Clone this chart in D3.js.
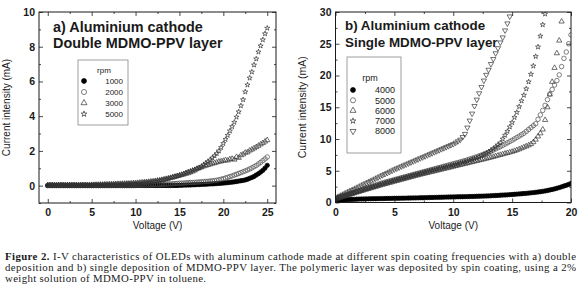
<!DOCTYPE html>
<html><head><meta charset="utf-8">
<script src="https://cdn.jsdelivr.net/npm/d3@7/dist/d3.min.js"></script>
<style>
body{margin:0;background:#fff}
svg{display:block}
text{font-family:"Liberation Sans",Arial,Helvetica,sans-serif;fill:#1a1a1a}
text.cap{font-family:"Liberation Serif","Times New Roman",serif}
</style>
</head><body>
<svg id="chart" width="580" height="295"></svg>
<script>
// ---------- DATA ----------
// Panel a: voltage sweep 0..25 V, step 0.25 V
const sweepA = {start: 0, step: 0.25, count: 101};
const seriesA_names = ["1000", "2000", "3000", "5000"];
const curA_1000 = [
0,0,0,0,0,0,0,0,0,0, 0,0,0,0,0,0,0,0,0,0, 0,0,0,0,0,0,0,0,0,0, 0,0,0,0,0,0,0,0,0,0,
0.01,0.01,0.01,0.01,0.01,0.01,0.01,0.01,0.01,0.01, 0.01,0.01,0.01,0.01,0.01,0.01,0.01,0.01,0.01,0.01,
0.02,0.02,0.03,0.03,0.04,0.04,0.05,0.05,0.06,0.06,0.07,0.08,0.08,0.09,0.10,0.10,0.11,0.12,0.13,0.14,
0.15,0.16,0.17,0.19,0.20,0.22,0.24,0.26,0.28,0.30,0.33,0.37,0.42,0.47,0.53,0.61,0.69,0.78,0.88,1.01,1.17];
const curA_2000 = [
0.02,0.02,0.02,0.02,0.02,0.02,0.02,0.02,0.02,0.02, 0.02,0.02,0.02,0.02,0.02,0.02,0.02,0.02,0.02,0.02,
0.02,0.02,0.02,0.02,0.02,0.02,0.02,0.02,0.02,0.02, 0.02,0.02,0.02,0.02,0.02,0.02,0.02,0.02,0.02,0.02,
0.03,0.03,0.04,0.04,0.04,0.05,0.05,0.05,0.06,0.06,0.07,0.07,
0.08,0.08,0.09,0.10,0.10,0.11,0.12,0.13,
0.14,0.14,0.15,0.16,0.17,0.18,0.18,0.19,
0.20,0.21,0.22,0.23,0.24,0.25,0.26,0.28,
0.29,0.31,0.34,0.37,0.40,0.44,0.48,0.52,
0.56,0.61,0.65,0.70,0.75,0.80,0.85,0.90,
0.96,1.02,1.09,1.16,1.25,1.34,1.44,1.54,
1.65];
const curA_3000 = [
0.03,0.03,0.03,0.03,0.03,0.03,0.03,0.03,0.03,0.03, 0.03,0.03,0.03,0.03,0.03,0.03,0.03,0.03,0.03,0.03,
0.04,0.04,0.05,0.05,0.06,0.06,0.07,0.07,0.08,0.08,0.09,0.09,0.10,0.10,0.11,0.11,0.12,0.12,0.13,0.14,
0.15,0.16,0.17,0.19,0.20,0.21,0.22,0.24,
0.25,0.27,0.29,0.31,0.33,0.36,0.39,0.42,
0.45,0.48,0.51,0.55,0.58,0.62,0.65,0.69,
0.72,0.77,0.82,0.88,0.97,1.02,1.06,1.11,
1.15,1.19,1.23,1.27,1.30,1.34,1.38,1.40,
1.43,1.47,1.45,1.52,1.55,1.50,1.65,1.60,
1.75,1.80,1.90,1.92,2.02,2.08,2.15,2.22,
2.30,2.38,2.45,2.54,
2.62];
const curA_5000 = [
0.03,0.03,0.03,0.03,0.03,0.03,0.03,0.03,0.03,0.03, 0.03,0.03,0.03,0.03,0.03,0.03,0.03,0.03,0.03,0.03,
0.04,0.04,0.04,0.05,0.05,0.05,0.06,0.06,0.06,0.07,0.07,0.08,0.08,0.09,0.09,0.10,0.10,0.11,0.11,0.12,
0.12,0.13,0.14,0.15,0.17,0.18,0.19,0.21,
0.23,0.25,0.27,0.29,0.32,0.35,0.38,0.41,
0.45,0.49,0.53,0.56,0.60,0.64,0.69,0.74,
0.80,0.84,0.89,0.93,0.98,1.02,1.10,1.20,
1.30,1.38,1.48,1.60,1.72,1.85,2.00,2.20,
2.43,2.66,2.90,3.15,3.40,3.65,3.95,4.25,
4.60,4.95,5.40,5.80,6.20,6.55,6.95,7.30,
7.70,8.05,8.40,8.75,
9.07];

// Panel b: voltage sweep 0..20 V, step 0.2 V
const sweepB = {start: 0, step: 0.2, count: 101};
const seriesB_names = ["4000", "5000", "6000", "7000", "8000"];
const curB_4000 = [
0.20,0.30,0.36,0.40,0.43,0.45,0.47,0.49,0.50,0.52,0.54,0.55,0.56,0.57,0.58,0.59,0.60,0.60,0.61,0.62,0.62,0.63,0.64,0.64,0.65,0.66,
0.66,0.67,0.68,0.68,0.69,0.70,0.71,0.72,0.72,0.73,0.74,0.75,0.76,0.77,0.78,
0.79,0.80,0.81,0.82,0.83,0.84,0.85,0.86,0.87,0.88,
0.89,0.90,0.90,0.91,0.92,0.93,0.94,0.95,0.96,0.98,
0.99,1.00,1.01,1.03,1.04,1.06,1.08,1.10,1.12,1.15,
1.17,1.19,1.21,1.24,1.26,
1.29,1.32,1.35,1.38,1.41,
1.44,1.48,1.52,1.56,1.60,
1.65,1.70,1.76,1.82,1.89,
1.97,2.05,2.14,2.24,2.35,
2.47,2.59,2.71,2.85,3.00];
const curB_5000 = [
0.60,0.78,0.93,1.06,1.18,1.30,1.42,1.54,1.66,1.78,1.90,2.02,2.14,2.26,2.38,2.50,2.62,2.74,2.86,2.98,3.10,3.20,3.30,3.40,3.50,3.60,
3.70,3.80,3.90,4.00,4.10,
4.20,4.30,4.40,4.50,4.60,
4.70,4.80,4.90,5.00,5.10,
5.20,5.30,5.40,5.50,5.60,
5.70,5.80,5.90,6.00,6.10,
6.20,6.30,6.40,6.50,6.60,
6.72,6.84,6.96,7.08,7.20,
7.34,7.48,7.62,7.76,7.90,
8.08,8.26,8.44,8.62,8.80,
9.00,9.20,9.40,9.60,9.80,
10.02,10.24,10.46,10.68,10.90,
11.2,11.5,11.8,12.1,12.4,
13.1,13.8,14.5,15.3,16.2,
17.1,17.8,18.5,19.2,20.1,
21.4,22.7,23.7,25.0,26.4];
const curB_6000 = [
0.50,0.62,0.74,0.86,0.98,1.10,1.22,1.34,1.46,1.58,1.70,1.81,1.92,2.03,2.14,2.25,2.36,2.47,2.58,2.69,2.80,2.90,3.00,3.10,3.20,3.30,
3.40,3.50,3.60,3.70,3.80,
3.90,4.00,4.10,4.20,4.30,
4.39,4.48,4.57,4.66,4.75,
4.84,4.93,5.02,5.11,5.20,
5.29,5.38,5.47,5.56,5.65,
5.74,5.83,5.92,6.01,6.10,
6.19,6.28,6.37,6.46,6.55,
6.64,6.73,6.82,6.91,7.00,
7.10,7.20,7.30,7.40,7.50,
7.60,7.70,7.80,7.90,8.00,
8.12,8.25,8.39,8.54,8.70,
8.85,9.00,9.20,9.50,9.90,
10.4,10.9,11.5,13.0,15.0,
17.0,19.0,21.2,23.5,25.5,
28.5,null,null,null,null];
const curB_7000 = [
0.60,0.73,0.86,0.97,1.08,1.20,1.32,1.44,1.56,1.68,1.80,1.92,2.04,2.16,2.28,2.40,2.51,2.62,2.73,2.84,2.95,3.06,3.17,3.28,3.39,3.50,
3.60,3.70,3.80,3.90,4.00,
4.10,4.20,4.30,4.40,4.50,
4.60,4.70,4.80,4.90,5.00,
5.09,5.18,5.27,5.36,5.45,
5.54,5.63,5.72,5.81,5.90,
6.00,6.10,6.20,6.30,6.40,
6.52,6.64,6.76,6.88,7.00,
7.18,7.36,7.55,7.75,7.95,
8.20,8.48,8.77,9.08,9.40,
10.0,10.6,11.2,11.9,12.6,
13.4,14.2,15.1,16.0,16.9,
17.9,19.0,20.2,21.5,23.0,
24.5,26.2,28.0,29.7,31.5,
null,null,null,null,null,
null,null,null,null,null];
const curB_8000 = [
0.70,0.88,1.06,1.24,1.42,1.60,1.78,1.96,2.14,2.32,2.50,2.68,2.86,3.04,3.22,3.40,3.58,3.76,3.94,4.12,4.30,4.48,4.66,4.84,5.02,5.20,
5.36,5.52,5.68,5.84,6.00,
6.16,6.32,6.48,6.64,6.80,
6.96,7.12,7.28,7.44,7.60,
7.76,7.92,8.08,8.24,8.40,
8.56,8.72,8.88,9.04,9.20,
9.42,9.64,9.90,10.3,10.8,
11.8,12.9,14.0,15.2,16.2,
17.2,18.2,19.2,20.1,20.9,
21.8,22.6,23.5,24.3,25.2,
26.0,27.1,28.2,29.3,30.5,
null,null,null,null,null,
null,null,null,null,null,
null,null,null,null,null,
null,null,null,null,null,
null,null,null,null,null];

const xTicksA = [0, 5, 10, 15, 20, 25];
const yTicksA = [0, 2, 4, 6, 8, 10];
const xTicksB = [0, 5, 10, 15, 20];
const yTicksB = [0, 5, 10, 15, 20, 25, 30];

const captionBold = "Figure 2.";
const captionLines = [
  " I-V characteristics of OLEDs with aluminum cathode made at different spin coating frequencies with a) double",
  "deposition and b) single deposition of MDMO-PPV layer. The polymeric layer was deposited by spin coating, using a 2%",
  "weight solution of MDMO-PPV in toluene."
];

// ---------- DRAW ----------
const svg = d3.select("#chart");
const INK = "#1a1a1a";

const markerDefs = {
  fillCircle: {type: d3.symbolCircle, size: 15, fill: "#000", stroke: "#000", rot: 0},
  openCircle: {type: d3.symbolCircle, size: 16, fill: "none", stroke: "#4a4a4a", rot: 0},
  triangle:   {type: d3.symbolTriangle, size: 12, fill: "none", stroke: "#333", rot: 0},
  star:       {type: d3.symbolStar, size: 8, fill: "none", stroke: "#333", rot: 0},
  downTri:    {type: d3.symbolTriangle, size: 12, fill: "none", stroke: "#333", rot: 180}
};

function panel(cfg){
  const g = svg.append("g");
  const x = d3.scaleLinear().domain(cfg.xDomain).range(cfg.xRange);
  const y = d3.scaleLinear().domain(cfg.yDomain).range(cfg.yRange);
  const clipId = "clip" + cfg.id;
  svg.append("clipPath").attr("id", clipId).append("rect")
    .attr("x", cfg.xRange[0]).attr("y", cfg.yRange[1])
    .attr("width", cfg.xRange[1]-cfg.xRange[0]).attr("height", cfg.yRange[0]-cfg.yRange[1]);

  // data
  const dg = g.append("g").attr("clip-path", `url(#${clipId})`);
  cfg.series.forEach(s => {
    const m = markerDefs[s.marker];
    const pts = s.values.map((v,i)=>({v: cfg.sweep.start + i*cfg.sweep.step, c: v})).filter(d=>d.c!==null);
    dg.append("g").selectAll("path").data(pts).join("path")
      .attr("d", d3.symbol(m.type, m.size))
      .attr("transform", d=>`translate(${x(d.v)},${y(d.c)}) rotate(${m.rot})`)
      .attr("fill", m.fill).attr("stroke", m.stroke).attr("stroke-width", 0.7);
  });

  // axes (inward ticks, mirrored)
  const x0 = cfg.xRange[0], x1 = cfg.xRange[1], y0 = cfg.yRange[0], y1 = cfg.yRange[1];
  const styleAxis = a => { a.select(".domain").remove(); a.selectAll("line").attr("stroke", INK).attr("stroke-width", 0.8); a.selectAll("text").attr("font-size", 10.5).attr("font-weight", "bold").attr("fill", "#111").attr("font-family", "Liberation Sans, Arial, sans-serif"); };
  g.append("g").attr("transform", `translate(0,${y0})`).call(d3.axisBottom(x).tickValues(cfg.xTicks).tickSize(-4).tickPadding(6).tickFormat(d3.format("d"))).call(styleAxis);
  g.append("g").attr("transform", `translate(0,${y0})`).call(d3.axisBottom(x).tickValues(cfg.xMinor).tickSize(-2).tickFormat("")).call(styleAxis);
  g.append("g").attr("transform", `translate(0,${y1})`).call(d3.axisTop(x).tickValues(cfg.xTicks).tickSize(-4).tickFormat("")).call(styleAxis);
  g.append("g").attr("transform", `translate(0,${y1})`).call(d3.axisTop(x).tickValues(cfg.xMinor).tickSize(-2).tickFormat("")).call(styleAxis);
  g.append("g").attr("transform", `translate(${x0},0)`).call(d3.axisLeft(y).tickValues(cfg.yTicks).tickSize(-4).tickPadding(4).tickFormat(d3.format("d"))).call(styleAxis);
  g.append("g").attr("transform", `translate(${x0},0)`).call(d3.axisLeft(y).tickValues(cfg.yMinor).tickSize(-2).tickFormat("")).call(styleAxis);
  g.append("g").attr("transform", `translate(${x1},0)`).call(d3.axisRight(y).tickValues(cfg.yTicks).tickSize(-4).tickFormat("")).call(styleAxis);
  g.append("g").attr("transform", `translate(${x1},0)`).call(d3.axisRight(y).tickValues(cfg.yMinor).tickSize(-2).tickFormat("")).call(styleAxis);

  g.append("rect").attr("x", x0).attr("y", y1).attr("width", x1-x0).attr("height", y0-y1)
    .attr("fill", "none").attr("stroke", INK).attr("stroke-width", 1);

  // axis titles
  g.append("text").attr("x", (x0+x1)/2).attr("y", cfg.xTitleY).attr("text-anchor", "middle")
    .attr("font-size", 10).text("Voltage (V)");
  g.append("text").attr("transform", `translate(${cfg.yTitleX},${(y0+y1)/2}) rotate(-90)`)
    .attr("text-anchor", "middle").attr("font-size", cfg.yTitleSize).text("Current intensity (mA)");

  // panel title
  cfg.title.forEach((t,i)=>{
    g.append("text").attr("x", cfg.titleX).attr("y", cfg.titleY[i]).attr("font-size", cfg.titleSize)
      .attr("font-weight", "bold").text(t);
  });

  // legend
  const L = cfg.legend;
  g.append("rect").attr("x", L.x).attr("y", L.y).attr("width", L.w).attr("height", L.h)
    .attr("fill", "#fff").attr("stroke", "#888").attr("stroke-width", 0.8);
  g.append("text").attr("x", L.rpmX).attr("y", L.rpmY).attr("text-anchor", "middle")
    .attr("font-size", L.fs).text("rpm");
  cfg.series.forEach((s,i)=>{
    const m = markerDefs[s.marker];
    const cy = L.firstY + i*L.dy;
    g.append("path").attr("d", d3.symbol(m.type, m.size*1.3)())
      .attr("transform", `translate(${L.symX},${cy}) rotate(${m.rot})`)
      .attr("fill", m.fill).attr("stroke", m.stroke).attr("stroke-width", 0.7);
    g.append("text").attr("x", L.textX).attr("y", cy + L.fs*0.36).attr("text-anchor", "end")
      .attr("font-size", L.fs).text(s.name);
  });
}

panel({
  id: "a", xDomain: [-1, 26], xRange: [39, 276], yDomain: [-1, 10], yRange: [203, 12],
  sweep: sweepA,
  series: [
    {name: seriesA_names[0], values: curA_1000, marker: "fillCircle"},
    {name: seriesA_names[1], values: curA_2000, marker: "openCircle"},
    {name: seriesA_names[2], values: curA_3000, marker: "triangle"},
    {name: seriesA_names[3], values: curA_5000, marker: "star"}
  ],
  xTicks: xTicksA, xMinor: [2.5, 7.5, 12.5, 17.5, 22.5],
  yTicks: yTicksA, yMinor: [-1, 1, 3, 5, 7, 9],
  xTitleY: 229, yTitleX: 10, yTitleSize: 10,
  title: ["a) Aluminium cathode", "Double MDMO-PPV layer"], titleX: 53, titleY: [31.5, 47.5], titleSize: 14.4,
  legend: {x: 78, y: 60, w: 50, h: 65, rpmX: 104, rpmY: 73, fs: 8, symX: 84, textX: 123, firstY: 81, dy: 11}
});

panel({
  id: "b", xDomain: [0, 20], xRange: [335.5, 571], yDomain: [0, 30], yRange: [202.5, 12],
  sweep: sweepB,
  series: [
    {name: seriesB_names[0], values: curB_4000, marker: "fillCircle"},
    {name: seriesB_names[1], values: curB_5000, marker: "openCircle"},
    {name: seriesB_names[2], values: curB_6000, marker: "triangle"},
    {name: seriesB_names[3], values: curB_7000, marker: "star"},
    {name: seriesB_names[4], values: curB_8000, marker: "downTri"}
  ],
  xTicks: xTicksB, xMinor: [2.5, 7.5, 12.5, 17.5],
  yTicks: yTicksB, yMinor: [2.5, 7.5, 12.5, 17.5, 22.5, 27.5],
  xTitleY: 229, yTitleX: 306, yTitleSize: 10.5,
  title: ["b) Aluminium cathode", "Single MDMO-PPV layer"], titleX: 345, titleY: [30, 46.5], titleSize: 13.4,
  legend: {x: 347, y: 57, w: 54, h: 96, rpmX: 370, rpmY: 81, fs: 9, symX: 353, textX: 395, firstY: 90, dy: 10.3}
});

// caption
const capY = [259.5, 270.5, 281.5];
const capFS = 10.8;
const capWidths = [571, 571, 201];
const t0 = svg.append("text").attr("class", "cap").attr("font-family", "Liberation Serif, Times New Roman, serif")
  .attr("x", 5).attr("y", capY[0]).attr("font-size", capFS)
  .attr("textLength", capWidths[0]).attr("lengthAdjust", "spacing");
t0.append("tspan").attr("font-weight", "bold").text(captionBold);
t0.append("tspan").text(captionLines[0]);
[1, 2].forEach(i => {
  svg.append("text").attr("class", "cap").attr("font-family", "Liberation Serif, Times New Roman, serif")
    .attr("x", 5).attr("y", capY[i]).attr("font-size", capFS)
    .attr("textLength", capWidths[i]).attr("lengthAdjust", "spacing").text(captionLines[i]);
});
</script>
</body></html>
